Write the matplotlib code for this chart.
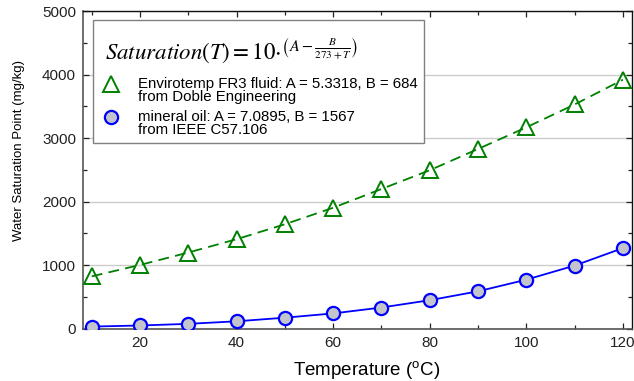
import numpy as np
import matplotlib
matplotlib.use("Agg")
import matplotlib.pyplot as plt
from matplotlib.lines import Line2D
from matplotlib.legend_handler import HandlerLine2D
from matplotlib.offsetbox import DrawingArea, HPacker, VPacker
from matplotlib.ticker import MultipleLocator

# Data
temperature = [10, 20, 30, 40, 50, 60, 70, 80, 90, 100, 110, 120]
fr3_saturation = [825, 1005, 1200, 1410, 1645, 1905, 2200, 2495, 2830, 3170, 3530, 3920]
mineral_saturation = [35, 52, 78, 118, 175, 242, 335, 450, 590, 773, 995, 1270]

fr3_label = "Envirotemp FR3 fluid: A = 5.3318, B = 684\nfrom Doble Engineering"
mineral_label = "mineral oil: A = 7.0895, B = 1567\nfrom IEEE C57.106"
formula = r"$Saturation(T) = 10{\cdot}^{\left(A-\frac{B}{273+T}\right)}$"

GREEN = "#008000"
BLUE = "#0000ff"

plt.rcParams["font.family"] = ["Liberation Sans", "DejaVu Sans"]
plt.rcParams["mathtext.fontset"] = "custom"
plt.rcParams["mathtext.rm"] = "Liberation Sans"


class FirstLineHandler(HandlerLine2D):
    # put the legend marker next to the first line of a two-line label
    def __init__(self, shift, **kw):
        super().__init__(**kw)
        self.shift = shift

    def create_artists(self, legend, orig_handle, xdescent, ydescent,
                       width, height, fontsize, trans):
        artists = super().create_artists(legend, orig_handle, xdescent, ydescent,
                                         width, height, fontsize, trans)
        for a in artists:
            a.set_ydata(np.asarray(a.get_ydata()) + self.shift * fontsize)
        return artists


fig = plt.figure(figsize=(6.34, 3.81), dpi=100)
ax = fig.add_axes([0.131, 0.137, 0.866, 0.834])

ax.plot(temperature, fr3_saturation, color=GREEN, linestyle=(0, (6, 3.5)), linewidth=1.3,
        marker="^", markersize=12, markerfacecolor="none", markeredgecolor=GREEN,
        markeredgewidth=1.4, zorder=3)
ax.plot(temperature, mineral_saturation, color=BLUE, linewidth=1.3,
        marker="o", markersize=9.5, markerfacecolor="#c4c4cc", markeredgecolor=BLUE,
        markeredgewidth=1.6, zorder=3)

ax.set_xlim(8.2, 121.9)
ax.set_ylim(0, 5000)
ax.xaxis.set_major_locator(MultipleLocator(20))
ax.xaxis.set_minor_locator(MultipleLocator(10))
ax.yaxis.set_major_locator(MultipleLocator(1000))
ax.yaxis.set_minor_locator(MultipleLocator(500))
ax.tick_params(which="both", direction="in", top=True, right=True, labelsize=11,
               colors="#222222", pad=5)
ax.tick_params(which="major", length=4, width=0.9)
ax.tick_params(which="minor", length=3, width=0.9)
ax.grid(axis="y", which="major", color="#cccccc", linewidth=1)
ax.set_axisbelow(True)

for side in ["left", "bottom"]:
    ax.spines[side].set_color("#555555")
    ax.spines[side].set_linewidth(1.2)
for side in ["top", "right"]:
    ax.spines[side].set_color("#111111")
    ax.spines[side].set_linewidth(1.0)

ax.set_xlabel(r"Temperature ($^{\rm o}$C)", fontsize=13.5)
ax.xaxis.set_label_coords(0.517, -0.095)
ax.set_ylabel("Water Saturation Point (mg/kg)", fontsize=9.5)
ax.yaxis.set_label_coords(-0.106, 0.56)

# legend with the formula as its title
h_fr3 = Line2D([], [], linestyle="none", marker="^", markersize=12,
               markerfacecolor="none", markeredgecolor=GREEN, markeredgewidth=1.4)
h_min = Line2D([], [], linestyle="none", marker="o", markersize=9.5,
               markerfacecolor="#c4c4cc", markeredgecolor=BLUE, markeredgewidth=1.6)
leg = ax.legend([h_fr3, h_min], [fr3_label, mineral_label],
                loc="upper left", bbox_to_anchor=(0.018, 0.972), borderaxespad=0,
                fontsize=10.8, title=formula, alignment="left",
                title_fontproperties={"size": 16.5},
                handler_map={h_fr3: FirstLineHandler(0.45), h_min: FirstLineHandler(0.45)},
                fancybox=False, framealpha=1, edgecolor="#808080",
                handlelength=1.6, handletextpad=1.0, labelspacing=0.45, borderpad=0.4)
leg.get_frame().set_linewidth(1.0)
leg.get_title().set_math_fontfamily("stix")
for t in leg.get_texts():
    t.set_linespacing(0.9)

# a bit more room above and left of the formula, like the original box
title_row = HPacker(pad=0, sep=0, align="baseline",
                    children=[DrawingArea(4.6, 1), leg._legend_title_box])
title_col = VPacker(pad=0, sep=0, align="left", children=[DrawingArea(1, 7.6), title_row])
leg._legend_box._children[0] = title_col
leg._legend_box.sep += 3
title_col.set_figure(fig)

fig.savefig("out.png", dpi=100)
